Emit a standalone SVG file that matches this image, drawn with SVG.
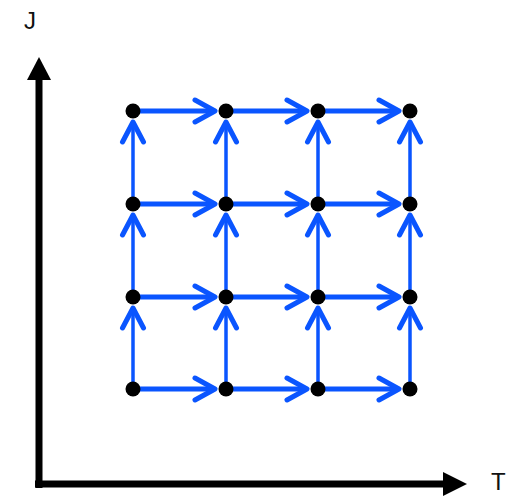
<svg xmlns="http://www.w3.org/2000/svg" width="508" height="496" viewBox="0 0 508 496">
<style>
.h{stroke:#0a55ff;stroke-width:5;fill:none;marker-end:url(#ch)}
.v{stroke:#0a55ff;stroke-width:3.5;fill:none;marker-end:url(#cv)}
.n{fill:#000}
.lbl{font-family:"Liberation Sans",Arial,sans-serif;font-size:24px;fill:#111}
</style>
<defs>
<marker id="ch" markerUnits="userSpaceOnUse" viewBox="-25 -15 30 30" refX="0" refY="0" markerWidth="30" markerHeight="30" orient="auto" overflow="visible">
<path d="M-20,-11 L0,0 L-20,11" fill="none" stroke="#0a55ff" stroke-width="5" stroke-linecap="round" stroke-linejoin="round"/>
</marker>
<marker id="cv" markerUnits="userSpaceOnUse" viewBox="-25 -15 30 30" refX="0" refY="0" markerWidth="30" markerHeight="30" orient="auto" overflow="visible">
<path d="M-20,-10.5 L0,0 L-20,10.5" fill="none" stroke="#0a55ff" stroke-width="5" stroke-linecap="round" stroke-linejoin="round"/>
</marker>
</defs>
<g id="axes">
<line x1="39" y1="488" x2="39" y2="78" stroke="#000" stroke-width="7"/>
<polygon points="39,57 27,80 51,80" fill="#000"/>
<line x1="35" y1="484" x2="445" y2="484" stroke="#000" stroke-width="7"/>
<polygon points="467,484 443,472 443,496" fill="#000"/>
<text class="lbl" x="24" y="29">J</text>
<text class="lbl" x="491" y="490">T</text>
</g>
<g id="connectors">
<line class="h" x1="133" y1="111" x2="215" y2="111"/>
<line class="h" x1="226" y1="111" x2="307" y2="111"/>
<line class="h" x1="318" y1="111" x2="399" y2="111"/>
<line class="h" x1="133" y1="204" x2="215" y2="204"/>
<line class="h" x1="226" y1="204" x2="307" y2="204"/>
<line class="h" x1="318" y1="204" x2="399" y2="204"/>
<line class="h" x1="133" y1="297" x2="215" y2="297"/>
<line class="h" x1="226" y1="297" x2="307" y2="297"/>
<line class="h" x1="318" y1="297" x2="399" y2="297"/>
<line class="h" x1="133" y1="389" x2="215" y2="389"/>
<line class="h" x1="226" y1="389" x2="307" y2="389"/>
<line class="h" x1="318" y1="389" x2="399" y2="389"/>
<line class="v" x1="133" y1="389" x2="133" y2="308"/>
<line class="v" x1="133" y1="297" x2="133" y2="215"/>
<line class="v" x1="133" y1="204" x2="133" y2="122"/>
<line class="v" x1="226" y1="389" x2="226" y2="308"/>
<line class="v" x1="226" y1="297" x2="226" y2="215"/>
<line class="v" x1="226" y1="204" x2="226" y2="122"/>
<line class="v" x1="318" y1="389" x2="318" y2="308"/>
<line class="v" x1="318" y1="297" x2="318" y2="215"/>
<line class="v" x1="318" y1="204" x2="318" y2="122"/>
<line class="v" x1="410" y1="389" x2="410" y2="308"/>
<line class="v" x1="410" y1="297" x2="410" y2="215"/>
<line class="v" x1="410" y1="204" x2="410" y2="122"/>
</g>
<g id="nodes">
<g id="n00"><circle class="n" cx="133" cy="389" r="7.5"/></g>
<g id="n10"><circle class="n" cx="226" cy="389" r="7.5"/></g>
<g id="n20"><circle class="n" cx="318" cy="389" r="7.5"/></g>
<g id="n30"><circle class="n" cx="410" cy="389" r="7.5"/></g>
<g id="n01"><circle class="n" cx="133" cy="297" r="7.5"/></g>
<g id="n11"><circle class="n" cx="226" cy="297" r="7.5"/></g>
<g id="n21"><circle class="n" cx="318" cy="297" r="7.5"/></g>
<g id="n31"><circle class="n" cx="410" cy="297" r="7.5"/></g>
<g id="n02"><circle class="n" cx="133" cy="204" r="7.5"/></g>
<g id="n12"><circle class="n" cx="226" cy="204" r="7.5"/></g>
<g id="n22"><circle class="n" cx="318" cy="204" r="7.5"/></g>
<g id="n32"><circle class="n" cx="410" cy="204" r="7.5"/></g>
<g id="n03"><circle class="n" cx="133" cy="111" r="7.5"/></g>
<g id="n13"><circle class="n" cx="226" cy="111" r="7.5"/></g>
<g id="n23"><circle class="n" cx="318" cy="111" r="7.5"/></g>
<g id="n33"><circle class="n" cx="410" cy="111" r="7.5"/></g>
</g>
</svg>
